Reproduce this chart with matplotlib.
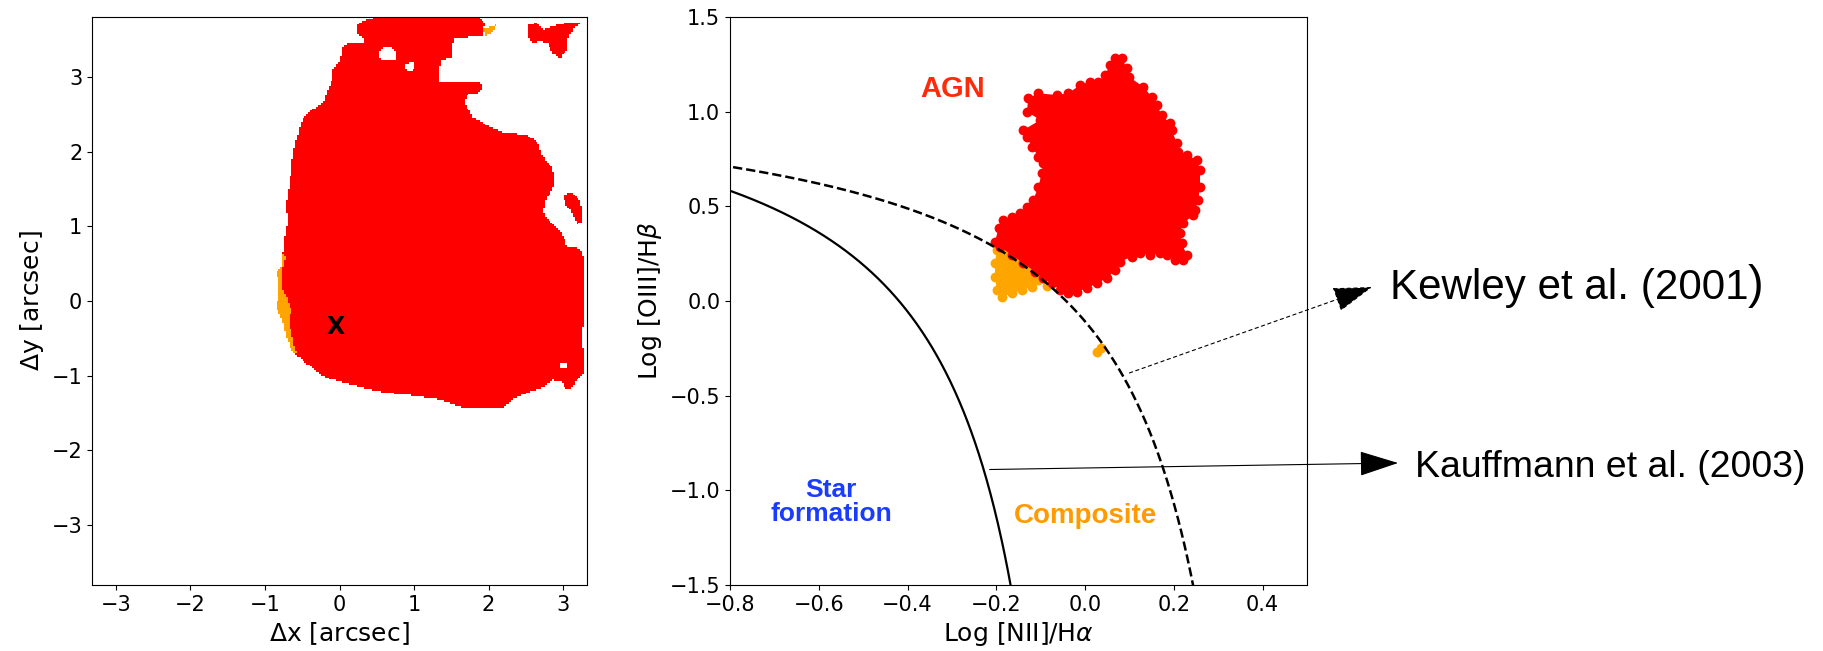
import numpy as np
import matplotlib
matplotlib.use("Agg")
import matplotlib.pyplot as plt
from matplotlib.path import Path

# ---- left panel: spaxel map, outlines (arcsec) ----
map_extent = [-3.32, 3.32, -3.8, 3.8]
pix = 0.025

body = [(0.22, 3.69), (0.36, 3.77), (0.54, 3.80), (1.88, 3.80), (1.95, 3.72), (1.92, 3.56),
        (1.66, 3.53), (1.52, 3.52), (1.51, 3.26), (1.35, 3.22), (1.32, 2.93), (1.62, 2.92),
        (1.88, 2.92), (1.92, 2.85), (1.84, 2.78), (1.71, 2.76), (1.68, 2.65), (1.79, 2.46),
        (2.02, 2.33), (2.19, 2.26), (2.52, 2.22), (2.66, 2.11), (2.73, 1.93), (2.85, 1.79),
        (2.89, 1.66), (2.86, 1.49), (2.76, 1.35), (2.73, 1.18), (2.85, 1.04), (2.98, 0.92),
        (3.05, 0.72), (3.23, 0.71), (3.28, 0.55), (3.28, -0.21), (3.25, -0.52), (3.28, -0.70),
        (3.27, -0.96), (3.20, -1.03), (3.12, -1.15), (3.05, -1.19), (2.98, -1.08), (2.86, -1.06),
        (2.73, -1.15), (2.38, -1.28), (2.19, -1.42), (1.92, -1.43), (1.66, -1.42), (1.35, -1.32),
        (0.95, -1.26), (0.58, -1.22), (0.27, -1.15), (0.01, -1.08), (-0.17, -1.03), (-0.30, -0.95),
        (-0.49, -0.79), (-0.62, -0.70), (-0.70, -0.52), (-0.77, -0.25), (-0.84, -0.12), (-0.82, 0.19),
        (-0.84, 0.39), (-0.77, 0.45), (-0.76, 0.62), (-0.73, 0.91), (-0.69, 1.08), (-0.73, 1.28),
        (-0.70, 1.39), (-0.66, 1.66), (-0.62, 2.02), (-0.57, 2.19), (-0.50, 2.42), (-0.37, 2.56),
        (-0.22, 2.65), (-0.17, 2.80), (-0.10, 2.96), (-0.09, 3.09), (0.01, 3.22), (0.03, 3.40),
        (0.14, 3.45), (0.32, 3.45), (0.32, 3.52), (0.23, 3.59)]
holes = [
    [(0.52, 3.31), (0.57, 3.39), (0.70, 3.40), (0.76, 3.33), (0.75, 3.22), (0.55, 3.22)],
    [(0.88, 3.18), (0.99, 3.20), (1.01, 3.13), (0.96, 3.06), (0.89, 3.10)],
    [(2.96, -0.82), (3.06, -0.82), (3.06, -0.90), (2.96, -0.90)],
]
blob_ne = [(2.52, 3.69), (2.65, 3.72), (2.73, 3.63), (2.92, 3.69), (3.09, 3.73), (3.23, 3.72),
           (3.13, 3.63), (3.05, 3.49), (3.05, 3.36), (2.96, 3.25), (2.85, 3.32), (2.80, 3.45),
           (2.69, 3.47), (2.58, 3.45), (2.53, 3.56)]
blob_e = [(2.99, 1.42), (3.11, 1.45), (3.22, 1.35), (3.25, 1.24), (3.25, 1.06), (3.19, 1.02),
          (3.12, 1.18), (3.04, 1.29)]
# composite spaxels
strip = [(-1.0, 0.62), (-0.76, 0.62), (-0.72, 0.59), (-0.76, 0.45), (-0.77, 0.28), (-0.76, 0.15),
         (-0.69, 0.01), (-0.65, -0.12), (-0.68, -0.29), (-0.64, -0.43), (-0.62, -0.56),
         (-0.57, -0.71), (-1.0, -0.71)]
tip = [(1.93, 3.64), (2.11, 3.70), (2.05, 3.61), (1.97, 3.55)]
nucleus = (-0.05, -0.35)

# ---- right panel: BPT diagram, cloud outlines ----
agn_x = [0.083, 0.094, 0.098, 0.131, 0.150, 0.161, 0.173, 0.191, 0.195, 0.207, 0.210, 0.229,
         0.252, 0.259, 0.259, 0.255, 0.248, 0.244, 0.221, 0.214, 0.218, 0.229, 0.221, 0.203,
         0.184, 0.169, 0.146, 0.124, 0.105, 0.079, 0.068, 0.049, 0.026, 0.004, -0.019, -0.038,
         -0.056, -0.075, -0.094, -0.113, -0.139, -0.165, -0.192, -0.203, -0.195, -0.184, -0.165,
         -0.147, -0.131, -0.117, -0.105, -0.098, -0.094, -0.105, -0.120, -0.131, -0.139, -0.101,
         -0.131, -0.128, -0.105, -0.064, -0.038, -0.011, 0.011, 0.030, 0.045, 0.056, 0.068]
agn_y = [1.282, 1.229, 1.185, 1.132, 1.079, 1.035, 0.982, 0.938, 0.903, 0.833, 0.788, 0.771,
         0.745, 0.692, 0.604, 0.533, 0.480, 0.454, 0.410, 0.357, 0.305, 0.243, 0.216, 0.216,
         0.243, 0.252, 0.243, 0.252, 0.234, 0.207, 0.163, 0.120, 0.093, 0.067, 0.049, 0.040,
         0.058, 0.093, 0.120, 0.155, 0.199, 0.243, 0.287, 0.313, 0.384, 0.428, 0.445,
         0.463, 0.498, 0.533, 0.604, 0.674, 0.727, 0.762, 0.815, 0.868, 0.903, 0.956,
         1.000, 1.071, 1.097, 1.088, 1.097, 1.141, 1.158, 1.158, 1.194, 1.246, 1.282]
comp_x = [-0.177, -0.199, -0.203, -0.203, -0.199, -0.188, -0.165, -0.143, -0.120, -0.105, -0.101, -0.147]
comp_y = [0.287, 0.269, 0.199, 0.128, 0.058, 0.022, 0.040, 0.058, 0.075, 0.110, 0.146, 0.234]
comp_extra_x = [-0.086, 0.026, 0.037]
comp_extra_y = [0.080, -0.268, -0.250]

# Kewley et al. 2001 and Kauffmann et al. 2003 demarcation lines
kew_a, kew_b, kew_c = 0.61, 0.47, 1.19
kau_a, kau_b, kau_c = 0.61, 0.05, 1.30

fig = plt.figure(figsize=(18.23, 6.51), dpi=100)
ax1 = fig.add_axes([92 / 1823, 66 / 651, 495 / 1823, 568 / 651])
ax2 = fig.add_axes([730 / 1823, 66 / 651, 577 / 1823, 568 / 651])

# rasterise the outlines on the spaxel grid
xc = np.arange(map_extent[0] + pix / 2, map_extent[1], pix)
yc = np.arange(map_extent[2] + pix / 2, map_extent[3], pix)
XX, YY = np.meshgrid(xc, yc)
pts = np.column_stack([XX.ravel(), YY.ravel()])


def inside(poly):
    return Path(poly).contains_points(pts).reshape(XX.shape)


red = inside(body)
for h in holes:
    red &= ~inside(h)
red |= inside(blob_ne) | inside(blob_e)
orange = (inside(strip) & red) | inside(tip)

img = np.zeros(XX.shape + (4,))
img[red] = (1, 0, 0, 1)
img[orange] = (1, 0.647, 0, 1)

ax1.imshow(img, origin="lower", extent=[xc[0] - pix / 2, xc[-1] + pix / 2, yc[0] - pix / 2, yc[-1] + pix / 2],
           interpolation="nearest", aspect="auto")
ax1.set_xlim(map_extent[0], map_extent[1])
ax1.set_ylim(map_extent[2], map_extent[3])
ax1.set_xticks([-3, -2, -1, 0, 1, 2, 3])
ax1.set_yticks([-3, -2, -1, 0, 1, 2, 3])
ax1.text(nucleus[0], nucleus[1], "X", fontsize=17, fontweight="bold", ha="center", va="center")
ax1.set_xlabel(r"$\Delta$x [arcsec]", fontsize=18)
ax1.set_ylabel(r"$\Delta$y [arcsec]", fontsize=18)

# BPT
ax2.fill(comp_x, comp_y, color="orange", lw=0, zorder=2)
ax2.scatter(comp_x + comp_extra_x, comp_y + comp_extra_y, s=50, color="orange", lw=0, zorder=2)
ax2.fill(agn_x, agn_y, color="red", lw=0, zorder=3)
ax2.scatter(agn_x, agn_y, s=50, color="red", lw=0, zorder=3)

xk = np.linspace(-1.0, 0.46, 600)
ax2.plot(xk, kew_a / (xk - kew_b) + kew_c, "k--", lw=1.8, zorder=4)
xf = np.linspace(-1.0, 0.04, 600)
ax2.plot(xf, kau_a / (xf - kau_b) + kau_c, "k-", lw=1.6, zorder=4)

ax2.set_xlim(-0.8, 0.5)
ax2.set_ylim(-1.5, 1.5)
ax2.set_xticks([-0.8, -0.6, -0.4, -0.2, 0.0, 0.2, 0.4])
ax2.set_yticks([-1.5, -1.0, -0.5, 0.0, 0.5, 1.0, 1.5])
ax2.set_xlabel(r"Log [NII]/H$\alpha$", fontsize=18)
ax2.set_ylabel(r"Log [OIII]/H$\beta$", fontsize=18)

lab = dict(family="Liberation Sans", fontweight="bold", ha="center", va="center")
ax2.text(-0.298, 1.12, "AGN", color="#ff2a0a", fontsize=21, **lab)
ax2.text(-0.572, -1.06, "Star\nformation", color="#1a3cff", fontsize=19, linespacing=1.0, **lab)
ax2.text(0.002, -1.135, "Composite", color="#ff9a00", fontsize=20, **lab)

for ax in (ax1, ax2):
    ax.tick_params(labelsize=15)

# callouts to the demarcation lines
ax2.annotate("", xy=(0.7526, 0.5591), xycoords="figure fraction", xytext=(0.10, -0.38),
             textcoords="data", annotation_clip=False,
             arrowprops=dict(arrowstyle="-|>,head_length=1.25,head_width=0.4", mutation_scale=20,
                             lw=0.8, ls=(0, (3, 3)), color="k", shrinkA=0, shrinkB=0))
ax2.annotate("", xy=(0.7669, 0.2888), xycoords="figure fraction", xytext=(-0.215, -0.89),
             textcoords="data", annotation_clip=False,
             arrowprops=dict(arrowstyle="-|>,head_length=1.25,head_width=0.4", mutation_scale=20,
                             lw=0.8, color="k", shrinkA=0, shrinkB=0))
fig.text(0.7625, 0.5402, "Kewley et al. (2001", family="Liberation Sans", fontsize=30.3, va="baseline")
fig.text(0.9585, 0.5420, ")", family="Liberation Sans", fontsize=34, va="baseline")
fig.text(0.7762, 0.2677, "Kauffmann et al. (2003)", family="Liberation Sans", fontsize=26.9, va="baseline")

fig.savefig("out.png", dpi=100)
